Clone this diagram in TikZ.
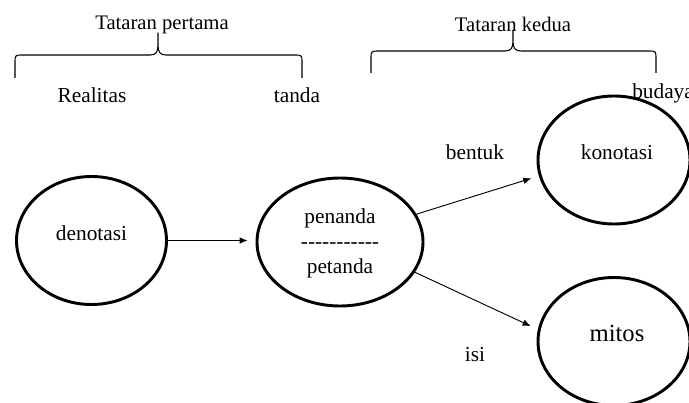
\documentclass[tikz,border=0pt]{standalone}
\usepackage{fontspec}
\setmainfont{Liberation Serif}
\usetikzlibrary{shapes.geometric}
\usetikzlibrary{arrows.meta}

\newcommand\dashrow{\foreach \i in {1,...,11}{\mbox{-}}}

\begin{document}
\begin{tikzpicture}[x=0.75pt,y=-0.75pt,
  every node/.style={font=\fontsize{16}{18.75}\selectfont,inner sep=0pt},
  oval/.style={draw,ellipse,line width=2.2pt},
  link/.style={-{Latex[length=6pt,width=5pt]},line width=0.7pt,shorten >=6pt},
  bracket/.style={line width=0.8pt,line join=round}]
\useasboundingbox (0,0) rectangle (689,403);
% the two levels
\draw[bracket] (15,78)--(15,63) .. controls (15,55) and (15,55) .. (23,55)--(150,55) .. controls (156,55) and (158,52) .. (158,45)--(158,33)--(158,45) .. controls (158,52) and (160,55) .. (166,55)--(294,55) .. controls (302,55) and (302,55) .. (302,63)--(302,78);
\draw[bracket] (371,73)--(371,59) .. controls (371,51) and (371,51) .. (379,51)--(505,51) .. controls (511,51) and (513,48) .. (513,41)--(513,30)--(513,41) .. controls (513,48) and (515,51) .. (521,51)--(648,51) .. controls (656,51) and (656,51) .. (656,59)--(656,73);
\node[font=\fontsize{15.5}{18}\selectfont] (lvla) at (162,25) {Tataran pertama};
\node[font=\fontsize{15.5}{18}\selectfont] (lvlb) at (513,24) {Tataran kedua};
\node (real) at (92,95) {Realitas};
\node (tnd) at (297,95) {tanda};
\node[anchor=west] (bud) at (632,93) {budaya};
% ovals
\node[oval,minimum width=112.5pt,minimum height=96pt] (den) at (91.5,240.5) {};
\node[oval,minimum width=124.5pt,minimum height=96pt] (pen) at (340,242) {};
\node[oval,minimum width=114pt,minimum height=96pt] (kon) at (614,160) {};
\node[oval,minimum width=114pt,minimum height=96pt] (mit) at (614,341.5) {};
\node (dent) at (91.5,233) {denotasi};
\node[align=center] (pent) at (340,243) {penanda\\\dashrow\\petanda};
\node (kont) at (617,152) {konotasi};
\node[font=\fontsize{18.5}{22}\selectfont] (mitt) at (617,333) {mitos};
% arrows
\draw[link] (den.east)--(den.east -| pen.west);
\draw[link] (pen.20)--(kon.192);
\draw[link] (pen.-22)--(mit.171);
\node (bnt) at (475,152) {bentuk};
\node (isi) at (475,355) {isi};
\end{tikzpicture}
\end{document}
